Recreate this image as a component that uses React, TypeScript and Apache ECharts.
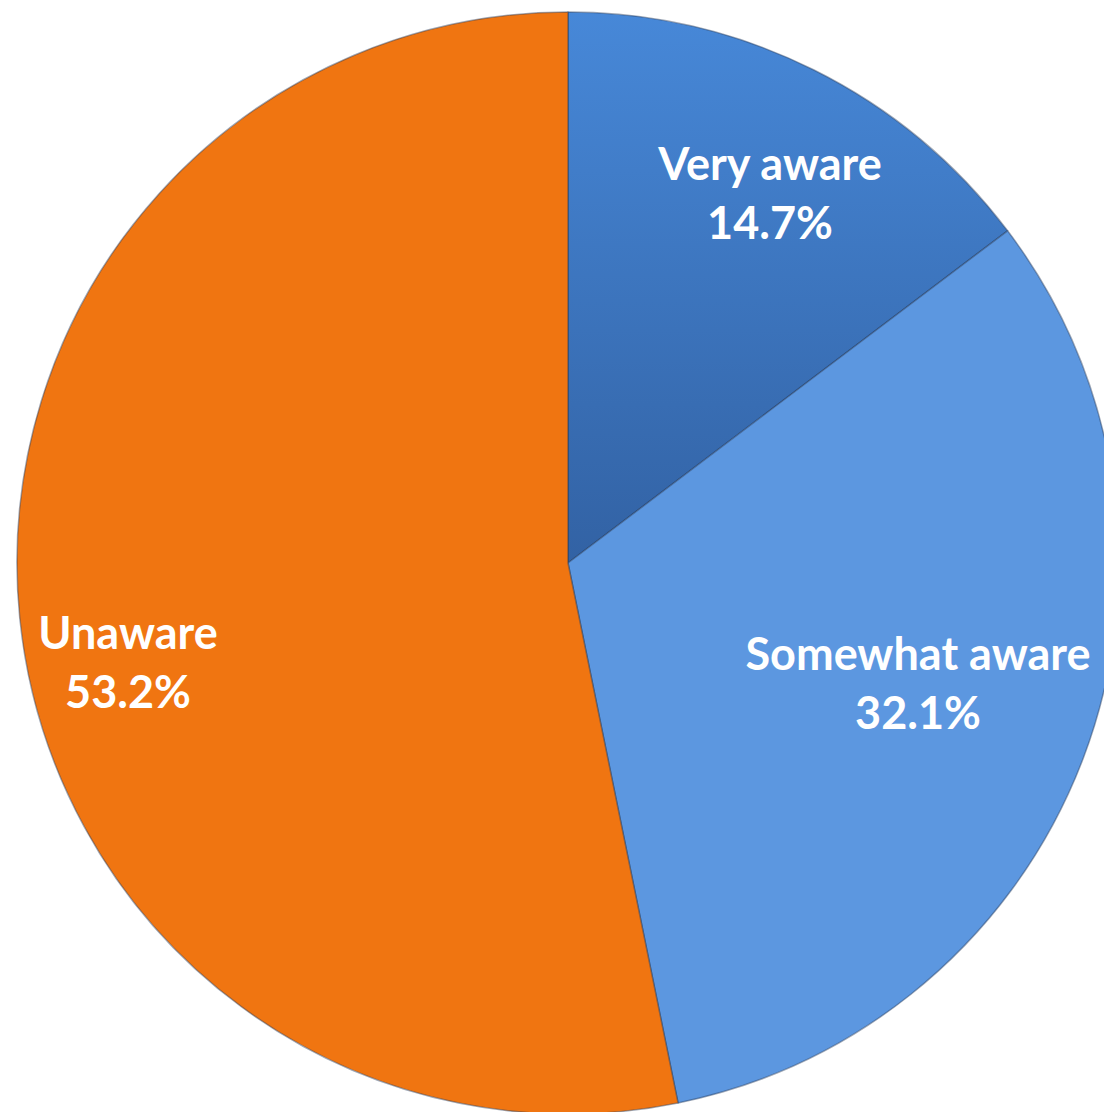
import React, { useEffect, useRef } from "react";
import * as echarts from "echarts";

const categories = ["Very aware", "Somewhat aware", "Unaware"];
const values = [14.7, 32.1, 53.2];
const labelAnchors: [number, number][] = [
  [770, 192],
  [918, 682],
  [128, 661],
];

export default function App() {
  const ref = useRef<HTMLDivElement>(null);
  useEffect(() => {
    document.body.style.margin = "0";
    const chart = echarts.init(ref.current!, null, { renderer: "svg" });
    const colors: any[] = [
      new echarts.graphic.LinearGradient(0, 0, 0, 1, [
        { offset: 0, color: "#4788d8" },
        { offset: 1, color: "#3262a4" },
      ]),
      "#5c97e0",
      "#f07511",
    ];
    chart.setOption({
      animation: false,
      backgroundColor: "#ffffff",
      series: [
        {
          type: "pie",
          center: [568, 563],
          radius: 551,
          startAngle: 90,
          clockwise: true,
          data: categories.map((name, i) => ({
            name,
            value: values[i],
            itemStyle: { color: colors[i] },
          })),
          itemStyle: {
            borderColor: "rgba(40,60,90,0.45)",
            borderWidth: 1.5,
          },
          label: {
            show: true,
            position: "inside",
            formatter: (p: any) => `${p.name}\n${p.value.toFixed(1)}%`,
            color: "#ffffff",
            fontFamily: "Lato",
            fontWeight: "bold",
            fontSize: 45,
            lineHeight: 59,
            align: "center",
          },
          labelLayout: (p: any) => ({
            x: labelAnchors[p.dataIndex][0],
            y: labelAnchors[p.dataIndex][1],
            align: "center",
            verticalAlign: "middle",
          }),
          labelLine: { show: false },
          emphasis: { disabled: true },
        },
      ],
    });
    return () => chart.dispose();
  }, []);
  return <div ref={ref} style={{ width: 1104, height: 1112 }} />;
}
